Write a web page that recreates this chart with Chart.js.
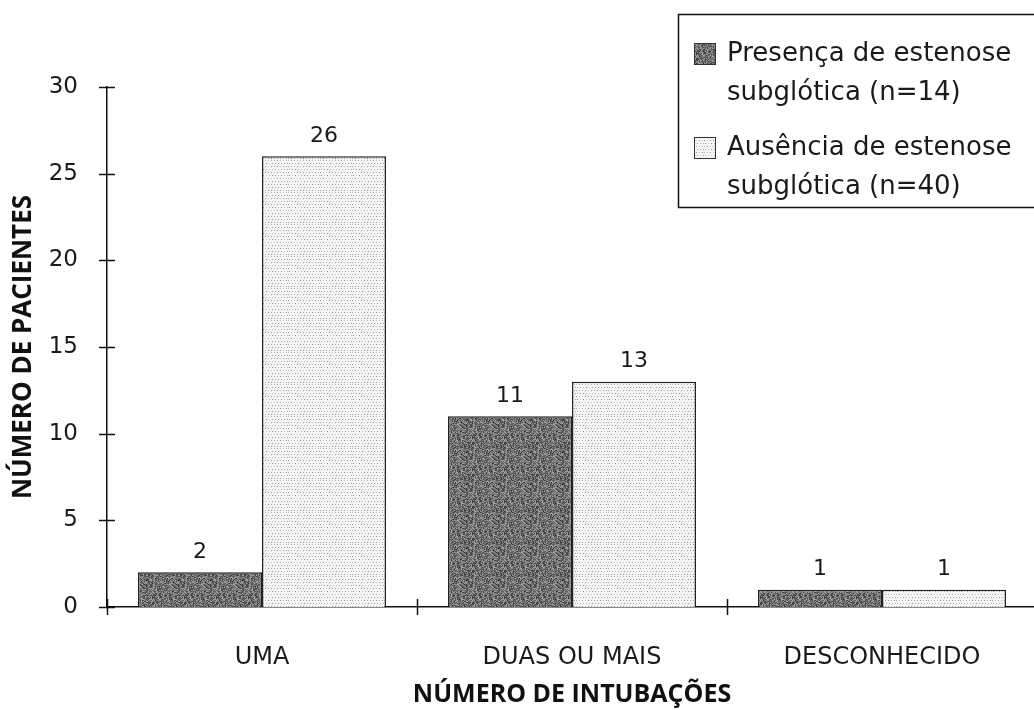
<!DOCTYPE html>
<html>
<head>
<meta charset="utf-8">
<script src="https://cdn.jsdelivr.net/npm/chart.js@4.4.0/dist/chart.umd.min.js"></script>
<style>
  html, body { margin: 0; padding: 0; background: #fff; overflow: hidden; }
  #wrap { width: 1040px; height: 710px; }
</style>
</head>
<body>
<div id="wrap"><canvas id="chart" width="1040" height="710"></canvas></div>
<script>
const categories = ['UMA', 'DUAS OU MAIS', 'DESCONHECIDO'];
const presenca = [2, 11, 1];
const ausencia = [26, 13, 1];
const legendLines = [
  ['Presença de estenose', 'subglótica (n=14)'],
  ['Ausência de estenose', 'subglótica (n=40)']
];
const yMin = 0, yMax = 30, yStep = 5;
const xTitle = 'NÚMERO DE INTUBAÇÕES';
const yTitle = 'NÚMERO DE PACIENTES';

const FONT = "'DejaVu Sans', sans-serif";
const BOLD = "'Open Sans', sans-serif";

// ─── print-like textures for the bars ───
function texture(kind) {
  const c = document.createElement('canvas');
  c.width = c.height = 32;
  const g = c.getContext('2d');
  let s = kind === 'dark' ? 1234 : 98765;
  const rnd = () => (s = (s * 16807) % 2147483647) / 2147483647;
  if (kind === 'dark') {
    g.fillStyle = '#6c6c6c'; g.fillRect(0, 0, 32, 32);
    for (let y = 0; y < 32; y++) for (let x = 0; x < 32; x++) {
      const v = Math.floor(55 + rnd() * 115);
      g.fillStyle = `rgb(${v},${v},${v})`; g.fillRect(x, y, 1, 1);
    }
  } else {
    g.fillStyle = '#f4f4f4'; g.fillRect(0, 0, 32, 32);
    for (let y = 0; y < 32; y += 3) for (let x = (y / 3) % 2 ? 1 : 0; x < 32; x += 3) {
      const v = Math.floor(140 + rnd() * 70);
      g.fillStyle = `rgb(${v},${v},${v})`; g.fillRect(x, y, 1, 1);
    }
  }
  return g.createPattern(c, 'repeat');
}
const darkFill = texture('dark');
const lightFill = texture('light');

// ─── crossing tick marks on both axes ───
const crossTicks = {
  id: 'crossTicks',
  afterDraw(chart) {
    const { ctx, scales: { x, y }, chartArea } = chart;
    ctx.save();
    ctx.strokeStyle = '#111'; ctx.lineWidth = 1.5;
    for (let v = yMin; v <= yMax; v += yStep) {
      const py = Math.round(y.getPixelForValue(v)) + 0.5;
      ctx.beginPath(); ctx.moveTo(chartArea.left - 8, py); ctx.lineTo(chartArea.left + 8, py); ctx.stroke();
    }
    const half = (x.getPixelForValue(1) - x.getPixelForValue(0)) / 2;
    for (let i = 0; i <= categories.length; i++) {
      const px = Math.round(x.getPixelForValue(i) - half) + 0.5;
      ctx.beginPath(); ctx.moveTo(px, chartArea.bottom - 8); ctx.lineTo(px, chartArea.bottom + 8); ctx.stroke();
    }
    ctx.restore();
  }
};

// ─── value labels above bars ───
const valueLabels = {
  id: 'valueLabels',
  afterDatasetsDraw(chart) {
    const { ctx } = chart;
    ctx.save();
    ctx.font = `22px ${FONT}`;
    ctx.fillStyle = '#1a1a1a';
    ctx.textAlign = 'center'; ctx.textBaseline = 'middle';
    chart.data.datasets.forEach((ds, di) => {
      chart.getDatasetMeta(di).data.forEach((bar, i) => {
        ctx.fillText(String(ds.data[i]), bar.x, bar.y - 20);
      });
    });
    ctx.restore();
  }
};

// ─── boxed legend, top right ───
const boxLegend = {
  id: 'boxLegend',
  afterDraw(chart) {
    const { ctx } = chart;
    ctx.save();
    ctx.strokeStyle = '#111'; ctx.lineWidth = 1.5;
    ctx.strokeRect(678.5, 14.5, 400, 193);
    ctx.font = `26px ${FONT}`;
    ctx.textBaseline = 'middle';
    const rows = [54, 148];
    chart.data.datasets.forEach((ds, i) => {
      const mid = rows[i];
      ctx.fillStyle = ds.backgroundColor;
      ctx.fillRect(694, mid - 11, 22, 22);
      ctx.lineWidth = 1; ctx.strokeStyle = '#333';
      ctx.strokeRect(694.5, mid - 10.5, 21, 21);
      ctx.fillStyle = '#1a1a1a';
      ctx.fillText(legendLines[i][0], 727, mid);
      ctx.fillText(legendLines[i][1], 727, mid + 39);
    });
    ctx.restore();
  }
};

new Chart(document.getElementById('chart'), {
  type: 'bar',
  data: {
    labels: categories,
    datasets: [
      { label: legendLines[0].join(' '), data: presenca, backgroundColor: darkFill, borderColor: '#222', borderWidth: 1.5 },
      { label: legendLines[1].join(' '), data: ausencia, backgroundColor: lightFill, borderColor: '#222', borderWidth: 1.5 }
    ]
  },
  options: {
    responsive: false, animation: false,
    layout: { padding: { top: 87, right: 3, left: 0, bottom: 0 } },
    categoryPercentage: 0.8, barPercentage: 1.0,
    plugins: { legend: { display: false }, tooltip: { enabled: false } },
    scales: {
      x: {
        grid: { display: false },
        border: { display: true, color: '#111', width: 1.5 },
        ticks: { color: '#1a1a1a', font: { family: FONT, size: 24 }, padding: 28 },
        title: { display: true, text: xTitle, color: '#111', font: { family: BOLD, size: 25, weight: 'bold' }, padding: { bottom: 0 } },
        afterFit(s) { s.height = 103; }
      },
      y: {
        min: yMin, max: yMax,
        grid: { display: false },
        border: { display: true, color: '#111', width: 1.5 },
        ticks: { stepSize: yStep, color: '#1a1a1a', font: { family: FONT, size: 23 }, padding: 21 },
        title: { display: true, text: yTitle, color: '#111', font: { family: BOLD, size: 26, weight: 'bold' }, padding: { top: 8 } },
        afterFit(s) { s.width = 107; }
      }
    }
  },
  plugins: [crossTicks, valueLabels, boxLegend]
});
</script>
</body>
</html>
